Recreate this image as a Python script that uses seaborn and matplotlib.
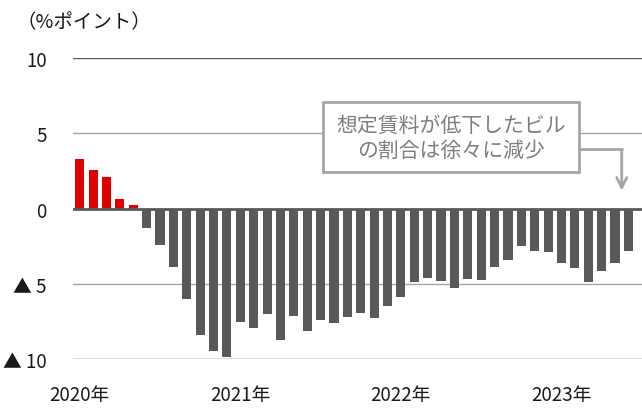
import pandas as pd
import numpy as np
import seaborn as sns
import matplotlib.pyplot as plt
from matplotlib.patches import Rectangle

# monthly values, Jan 2020 - Jun 2023 (%pt)
values = [3.27, 2.54, 2.09, 0.63, 0.23, -1.27, -2.40, -3.87, -5.99, -8.38, -9.45, -9.85,
          -7.52, -7.92, -6.99, -8.72, -7.12, -8.12, -7.39, -7.63, -7.19, -6.97, -7.26, -6.50,
          -5.86, -4.86, -4.60, -4.80, -5.26, -4.68, -4.73, -3.91, -3.40, -2.47, -2.80, -2.87,
          -3.60, -3.93, -4.86, -4.13, -3.60, -2.80]
year_labels = ["2020年", "2021年", "2022年", "2023年"]
y_ticks = [-10, -5, 0, 5, 10]
y_tick_labels = ["▲ 10", "▲ 5", "0", "5", "10"]
note_lines = ["想定賃料が低下したビル", "の割合は徐々に減少"]

df = pd.DataFrame({"month": np.arange(len(values)), "value": values})
df["sign"] = np.where(df["value"] >= 0, "pos", "neg")

sns.set_style("white")
plt.rcParams['font.family'] = ['Noto Sans CJK JP', 'DejaVu Sans']

fig = plt.figure(figsize=(6.42, 4.10), dpi=100)
ax = fig.add_axes([0.1137, 0.122, 0.886, 0.734])

# gridlines
for yv in y_ticks:
    if yv == 0:
        continue
    c = "#595959" if abs(yv) == 10 else "#A6A6A6"
    ax.axhline(yv, color=c, lw=1, zorder=0)

sns.barplot(data=df, x="month", y="value", hue="sign",
            palette={"pos": "#E00000", "neg": "#595959"},
            dodge=False, legend=False, width=0.68, saturation=1, linewidth=0,
            ax=ax, zorder=2)
ax.axhline(0, color="#595959", lw=2, zorder=3)

ax.set_ylim(-10, 10)
ax.set_xlim(-0.5, 42.0)
ax.set_yticks(y_ticks)
ax.set_yticklabels(y_tick_labels, fontsize=13.5)
ax.set_xticks([0, 12, 24, 36])
ax.set_xticklabels(year_labels, fontsize=13.5)
ax.tick_params(axis="both", length=0, colors="#1a1a1a")
ax.tick_params(axis="y", pad=19)
ax.tick_params(axis="x", pad=18)
ax.set_xlabel("")
ax.set_ylabel("")
for s in ax.spines.values():
    s.set_visible(False)

fig.text(0.025, 0.945, "（%ポイント）", fontsize=14, color="#1a1a1a", va="center")

# annotation box + arrow
ax.add_patch(Rectangle((18.17, 2.43), 19.13, 4.65, fill=True, facecolor="white",
                       edgecolor="#A6A6A6", lw=2, clip_on=False, zorder=5))
ax.text(27.73, 4.75, "\n".join(note_lines), ha="center", va="center", fontsize=15,
        color="#7F7F7F", linespacing=1.2, zorder=6)
ax.plot([37.3, 40.5], [3.95, 3.95], color="#A6A6A6", lw=2, clip_on=False, zorder=4)
ax.annotate("", xy=(40.5, 1.0), xytext=(40.5, 4.0),
            arrowprops=dict(arrowstyle="->", color="#A6A6A6", lw=2, mutation_scale=18),
            annotation_clip=False, zorder=4)

plt.savefig("out.png", dpi=100)
